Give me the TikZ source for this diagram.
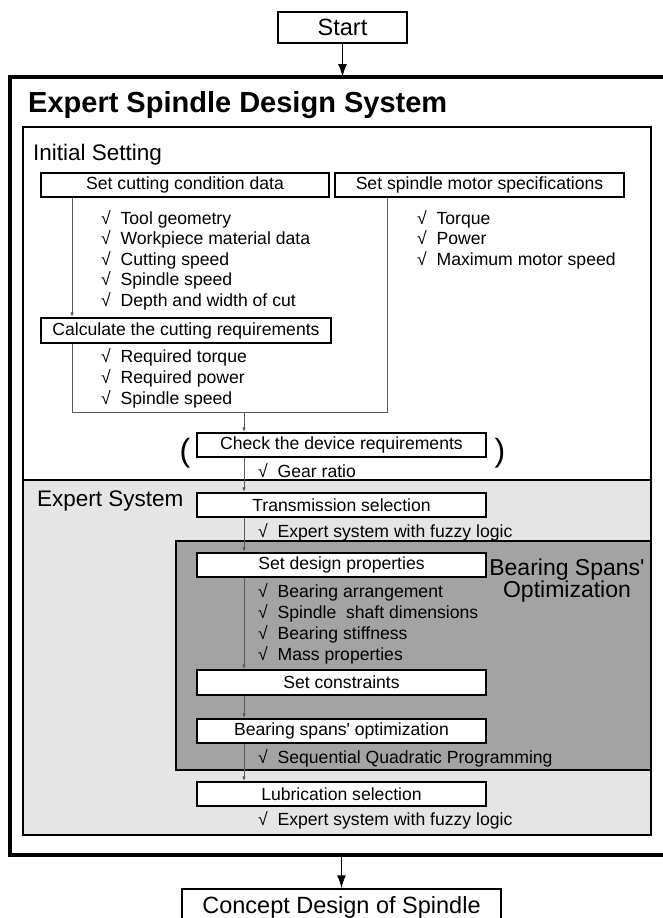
\documentclass[tikz,border=0pt]{standalone}
\usepackage{fontspec}
\setmainfont{Liberation Sans}
\usetikzlibrary{arrows.meta}
\definecolor{panelgray}{RGB}{229,229,229}
\definecolor{optgray}{RGB}{163,163,163}
\definecolor{wiregray}{RGB}{90,90,90}
\begin{document}
\begin{tikzpicture}[x=1pt,y=-1pt,
  box/.style={draw=black, line width=1.5pt, fill=white, inner sep=0pt,
    minimum width=289pt, minimum height=24pt, font=\fontsize{17.6}{20}\selectfont},
  item/.style={anchor=base west, inner sep=0pt, font=\fontsize{17.6}{20}\selectfont},
  heading/.style={anchor=base west, inner sep=0pt, font=\fontsize{22.5}{26}\selectfont},
  wire/.style={draw=wiregray, line width=1pt},
  flow/.style={wire, -{Latex[length=5pt,width=3.5pt]}},
  bigflow/.style={draw=black, line width=1.5pt, -{Latex[length=13pt,width=9pt]}},
]
\useasboundingbox (0,0) rectangle (663,918);
\clip (0,0) rectangle (663,918);

% guide coordinates for the vertical connector lines
\coordinate (lspine) at (72,0);
\coordinate (rspine) at (387,0);
\coordinate (spine) at (244,0);
\coordinate (ubot) at (0,412);
\coordinate (frameTop) at (10,77);
\coordinate (frameBot) at (10,855);

% outer frame of the design system
\draw[line width=3.5pt] (frameTop) rectangle (672,855);
\node[anchor=base west, inner sep=0pt, font=\fontsize{29}{32}\selectfont\bfseries]
  (title) at (28,112) {Expert Spindle Design System};

% inner panel: expert system part shaded
\fill[panelgray] (23,480) rectangle (651,835);
\filldraw[fill=optgray, draw=black, line width=1.5pt] (176,541) rectangle (651,770);
\draw[line width=2pt] (23,127) rectangle (651,835);
\draw[line width=2pt] (23,480) -- (651,480);

\node[heading] (initlbl) at (33,160) {Initial Setting};
\node[heading] (exlbl) at (37,506) {Expert System};
\node[anchor=base, inner sep=0pt, align=center, font=\fontsize{23}{22}\selectfont]
  (bslbl) at (567,597) {Bearing Spans\textquotesingle\\Optimization};

% start / end
\node[draw=black, line width=1.5pt, inner sep=0pt, minimum width=129pt, minimum height=31pt,
  font=\fontsize{23.5}{26}\selectfont] (start) at (342.5,27.5) {Start};
\node[draw=black, line width=1.5pt, fill=white, inner sep=0pt, minimum width=319pt, minimum height=36pt,
  font=\fontsize{23.5}{26}\selectfont] (concept) at (341.5,907) {Concept Design of Spindle};

% initial setting boxes
\node[box, minimum width=288pt] (setcut) at (185,185) {Set cutting condition data};
\node[box, minimum width=289pt] (setmotor) at (479.5,185) {Set spindle motor specifications};
\node[box, minimum width=290pt, minimum height=25pt] (calc) at (186,330.5) {Calculate the cutting requirements};

% central column
\node[box] (check) at (341.5,445) {Check the device requirements};
\node[box] (trans) at (341.5,505) {Transmission selection};
\node[box] (design) at (341.5,565) {Set design properties};
\node[box, minimum height=25pt] (constr) at (341.5,682.5) {Set constraints};
\node[box] (spans) at (341.5,731) {Bearing spans\textquotesingle\ optimization};
\node[box] (lub) at (341.5,794) {Lubrication selection};

\node[anchor=base, inner sep=0pt, font=\fontsize{32}{34}\selectfont] (lpar) at (185,461) {(};
\node[anchor=base, inner sep=0pt, font=\fontsize{32}{34}\selectfont] (rpar) at (500,461) {)};

% check lists
\node[item] at (101,224) {√\ \ Tool geometry};
\node[item] at (101,244.5) {√\ \ Workpiece material data};
\node[item] at (101,265) {√\ \ Cutting speed};
\node[item] at (101,285.5) {√\ \ Spindle speed};
\node[item] at (101,306) {√\ \ Depth and width of cut};

\node[item] at (417,224) {√\ \ Torque};
\node[item] at (417,244.5) {√\ \ Power};
\node[item] at (417,265) {√\ \ Maximum motor speed};

\node[item] at (101,362) {√\ \ Required torque};
\node[item] at (101,383) {√\ \ Required power};
\node[item] at (101,404) {√\ \ Spindle speed};

\node[item] at (258,477) {√\ \ Gear ratio};
\node[item] at (258,537) {√\ \ Expert system with fuzzy logic};
\node[item] at (258,597) {√\ \ Bearing arrangement};
\node[item] at (258,618) {√\ \ Spindle\ \ shaft dimensions};
\node[item] at (258,639) {√\ \ Bearing stiffness};
\node[item] at (258,660) {√\ \ Mass properties};
\node[item] at (258,763) {√\ \ Sequential Quadratic Programming};
\node[item] at (258,825) {√\ \ Expert system with fuzzy logic};

% connectors
\draw[bigflow] (start.south) -- (start.south |- frameTop);
\draw[bigflow] (concept.north |- frameBot) -- (concept.north);

\draw[flow] (setcut.south -| lspine) -- (calc.north -| lspine);
\draw[wire] (calc.south -| lspine) -- (lspine |- ubot) -- (rspine |- ubot) -- (setmotor.south -| rspine);
\draw[flow] (spine |- ubot) -- (check.north -| spine);
\draw[flow] (check.south -| spine) -- (trans.north -| spine);
\draw[flow] (trans.south -| spine) -- (design.north -| spine);
\draw[flow] (design.south -| spine) -- (constr.north -| spine);
\draw[flow] (constr.south -| spine) -- (spans.north -| spine);
\draw[flow] (spans.south -| spine) -- (lub.north -| spine);
\end{tikzpicture}
\end{document}
